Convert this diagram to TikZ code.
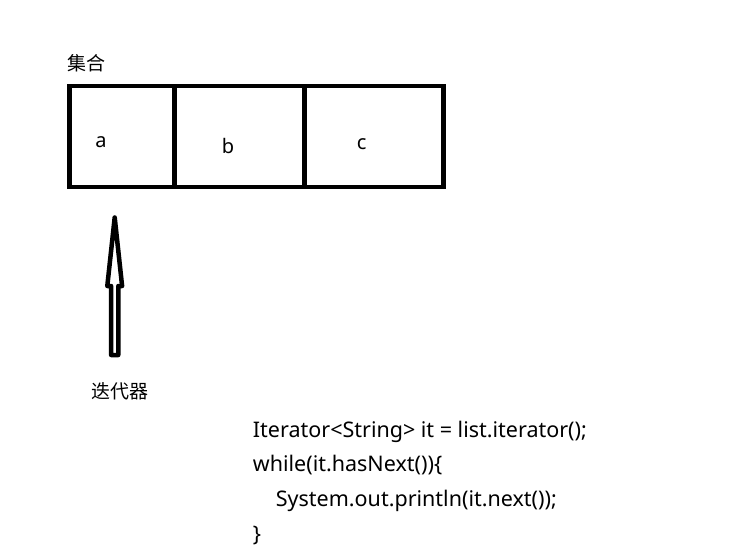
\documentclass[tikz,border=0pt]{standalone}
\usepackage{fontspec}
\setmainfont{Noto Sans}
\newfontfamily\cjk{Noto Sans CJK SC}
\usetikzlibrary{positioning,calc}

\begin{document}
\begin{tikzpicture}[
    x=1bp, y=-1bp,
    cell node/.style={draw,rectangle,line width=4.7bp,minimum height=101bp,outer sep=0pt,inner sep=0pt},
    letter node/.style={font=\fontsize{20bp}{20bp}\selectfont,inner sep=0pt},
    cjk node/.style={font=\cjk\fontsize{19bp}{19bp}\selectfont,inner sep=0pt},
    hollow arrow/.style={draw,line width=4.5bp,line join=round},
    code node/.style={font=\fontsize{21.5bp}{34.8bp}\selectfont,align=left,inner sep=0pt}]

  \useasboundingbox (0,0) rectangle (731,557);

  \node[cell node,minimum width=104.6bp] (CellA) at (122,136.5) {};
  \node[cell node,minimum width=130bp] (CellB) [right=0pt of CellA] {};
  \node[cell node,minimum width=139bp] (CellC) [right=0pt of CellB] {};

  \node[letter node] (LetterA) at (101,142.5) {a};
  \node[letter node] (LetterB) at (228,146.3) {b};
  \node[letter node] (LetterC) at (361.7,144) {c};
  \node[cjk node] (Collection) at (86.7,63.5) {集合};

  \coordinate (Tail) at (114.7,355);
  \coordinate (Tip) at (114.7,217.5);
  \draw[hollow arrow] ($(Tail)+(-3.6,0)$) -- ($(Tail)+(-3.6,-69)$) -- ($(Tail)+(-7.4,-69)$)
    -- (Tip) -- ($(Tail)+(7.4,-69)$) -- ($(Tail)+(3.6,-69)$) -- ($(Tail)+(3.6,0)$) -- cycle;
  \node[cjk node] (IteratorLabel) at (120,391.7) {迭代器};

  % base anchor of a multi-line node sits on its last line
  \node[code node,anchor=base west] (Code) at (252.7,541.4) {Iterator<String> it = list.iterator();\\
    while(it.hasNext())\{\\
    \hspace*{23bp}System.out.println(it.next());\\
    \}};
\end{tikzpicture}
\end{document}
